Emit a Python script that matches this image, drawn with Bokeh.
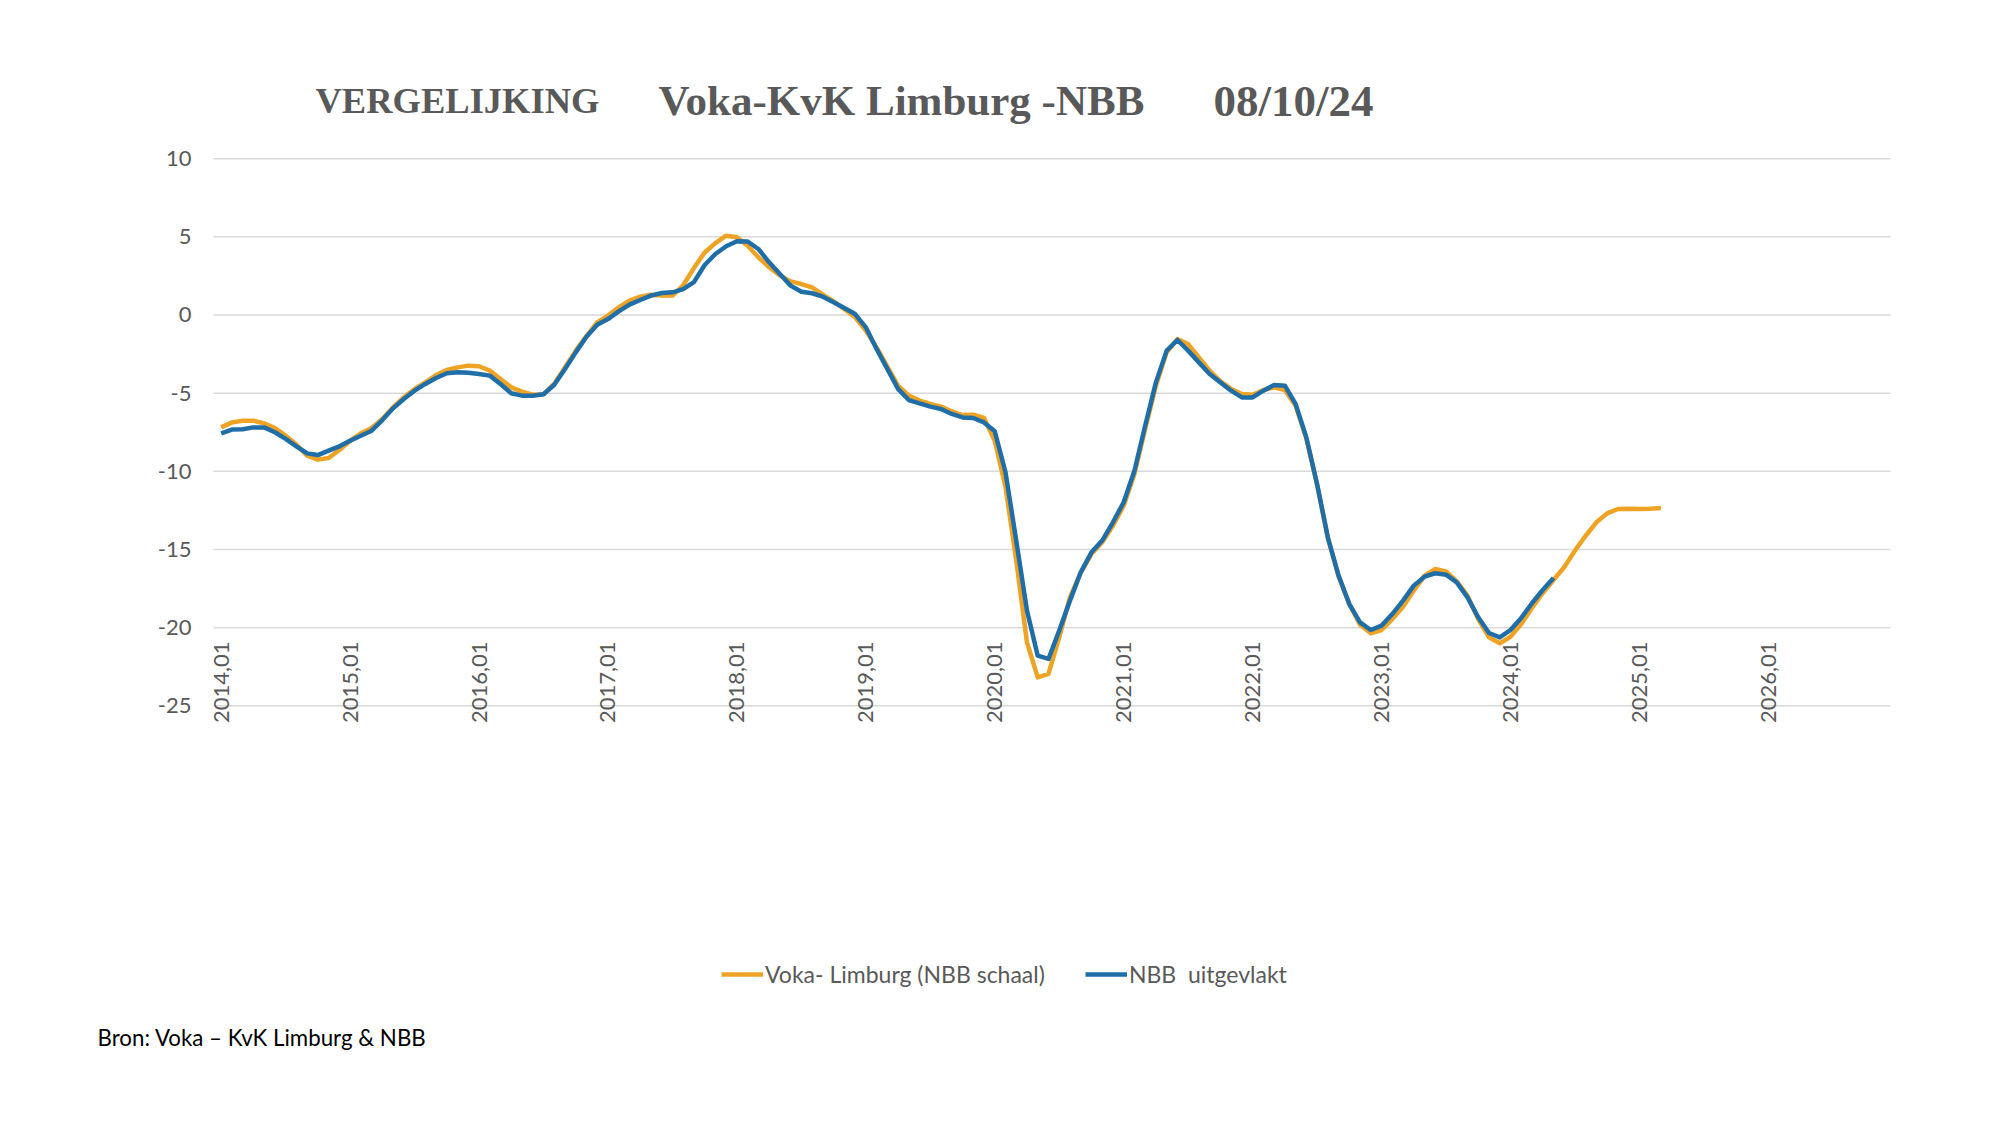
import math
from bokeh.plotting import figure
from bokeh.models import Range1d, Label, Legend, LegendItem, ColumnDataSource
from bokeh.core.properties import value
from bokeh.embed import file_html
from bokeh.resources import INLINE

# Voka - Limburg (NBB schaal), monthly from 2014,01
voka = [
    -7.19, -6.87, -6.76, -6.76, -6.93, -7.23, -7.72, -8.29, -9.00, -9.25, -9.15, -8.64,
    -8.04, -7.57, -7.23, -6.65, -5.90, -5.27, -4.73, -4.31, -3.84, -3.52, -3.35, -3.24,
    -3.28, -3.56, -4.09, -4.63, -4.90, -5.10, -5.07, -4.40, -3.35, -2.28, -1.35, -0.47,
    -0.04, 0.49, 0.92, 1.17, 1.30, 1.24, 1.24, 1.90, 3.00, 4.00, 4.60, 5.07,
    4.97, 4.43, 3.69, 3.05, 2.52, 2.15, 1.98, 1.77, 1.30, 0.87, 0.38, -0.15,
    -1.00, -2.07, -3.30, -4.52, -5.16, -5.48, -5.69, -5.86, -6.16, -6.40, -6.38, -6.59,
    -8.04, -11.00, -15.70, -20.94, -23.18, -22.96, -20.62, -18.06, -16.50, -15.29, -14.54, -13.48,
    -12.20, -10.17, -7.29, -4.52, -2.39, -1.54, -1.86, -2.71, -3.56, -4.24, -4.73, -5.05,
    -5.10, -4.80, -4.63, -4.80, -5.80, -7.90, -10.85, -14.25, -16.70, -18.50, -19.81, -20.36,
    -20.15, -19.45, -18.66, -17.63, -16.67, -16.25, -16.40, -17.04, -17.95, -19.45, -20.62, -21.00,
    -20.58, -19.77, -18.74, -17.80, -16.95, -16.14, -15.07, -14.12, -13.26, -12.69, -12.41, -12.39,
    -12.41, -12.39, -12.35,
]

# NBB uitgevlakt, monthly from 2014,01
nbb = [
    -7.57, -7.33, -7.31, -7.19, -7.19, -7.50, -7.93, -8.40, -8.85, -8.96, -8.68, -8.40,
    -8.04, -7.72, -7.40, -6.72, -5.97, -5.37, -4.84, -4.41, -4.03, -3.73, -3.67, -3.69,
    -3.77, -3.88, -4.41, -5.01, -5.16, -5.16, -5.07, -4.46, -3.45, -2.39, -1.39, -0.62,
    -0.26, 0.23, 0.66, 0.96, 1.24, 1.41, 1.45, 1.66, 2.10, 3.20, 3.90, 4.40,
    4.72, 4.70, 4.22, 3.37, 2.62, 1.88, 1.49, 1.39, 1.17, 0.81, 0.45, 0.06,
    -0.79, -2.17, -3.45, -4.73, -5.44, -5.65, -5.86, -6.01, -6.33, -6.55, -6.59, -6.87,
    -7.44, -10.06, -14.43, -18.91, -21.79, -22.00, -20.19, -18.27, -16.46, -15.18, -14.43, -13.26,
    -11.98, -9.96, -7.08, -4.31, -2.28, -1.60, -2.28, -3.03, -3.77, -4.31, -4.84, -5.27,
    -5.27, -4.84, -4.48, -4.52, -5.69, -7.83, -10.81, -14.22, -16.67, -18.49, -19.66, -20.15,
    -19.87, -19.13, -18.27, -17.31, -16.74, -16.52, -16.61, -17.10, -18.06, -19.34, -20.34, -20.62,
    -20.15, -19.38, -18.44, -17.59, -16.82,
]

tick_labels = ["2014,01", "2015,01", "2016,01", "2017,01", "2018,01", "2019,01", "2020,01",
               "2021,01", "2022,01", "2023,01", "2024,01", "2025,01", "2026,01"]
y_ticks = [-25, -20, -15, -10, -5, 0, 5, 10]
y_tick_labels = ["-25", "-20", "-15", "-10", "-5", "0", "5", "10"]

series_names = ["Voka- Limburg (NBB schaal)", "NBB\u00a0 uitgevlakt"]
title_parts = ["VERGELIJKING", "Voka-KvK Limburg -NBB", "08/10/24"]
source_text = "Bron: Voka \u2013 KvK Limburg & NBB"

ORANGE = "#EFA324"
BLUE = "#1F6EA8"
GREY = "#595959"
FONT = "Lato"

# plot area in months (x) and value units (y)
X_LO, X_HI = -0.72, 155.37

W, H = 1984, 1109
p = figure(width=W, height=H, output_backend="svg", toolbar_location=None,
           x_range=Range1d(-20.54, 164.12), y_range=Range1d(-50.82, 20.116),
           x_axis_location=None, y_axis_location=None, title=None,
           min_border=0)
p.outline_line_color = None
p.background_fill_color = "white"
p.border_fill_color = "white"
p.xgrid.visible = False
p.ygrid.visible = False

# horizontal gridlines across the plot area
p.segment(x0=[X_LO] * len(y_ticks), x1=[X_HI] * len(y_ticks), y0=y_ticks, y1=y_ticks,
          line_color="#D9D9D9", line_width=1.5)

# y tick labels
p.text(x=[-2.76] * len(y_ticks), y=y_ticks, text=y_tick_labels,
       text_align="right", text_baseline="middle",
       text_font=value(FONT), text_font_size="22px", text_color=GREY)

r1 = p.line(list(range(len(voka))), voka, line_color=ORANGE, line_width=4.5, line_join="round")
r2 = p.line(list(range(len(nbb))), nbb, line_color=BLUE, line_width=4.5, line_join="round")

# category labels (rotated), placed as in the original
tick_src = ColumnDataSource(dict(
    x=[12 * i for i in range(len(tick_labels))],
    y=[-20.88] * len(tick_labels),
    text=tick_labels,
))
p.text(x="x", y="y", text="text", source=tick_src, angle=math.pi / 2,
       text_align="right", text_baseline="middle",
       text_font=value(FONT), text_font_size="22px", text_color=GREY)

legend = Legend(items=[LegendItem(label=series_names[0], renderers=[r1]),
                       LegendItem(label=series_names[1], renderers=[r2])],
                orientation="horizontal", location=(721, 121),
                glyph_width=42, glyph_height=20, label_standoff=2, spacing=40,
                padding=0, margin=0, border_line_color=None, background_fill_alpha=0,
                label_text_font=FONT, label_text_font_size="23px", label_text_color=GREY)
p.add_layout(legend)

for txt, xx, fs in zip(title_parts, [315, 658, 1213], ["36.5px", "43px", "45px"]):
    p.add_layout(Label(x=xx, y=H - 100, x_units="screen", y_units="screen", text=txt,
                       text_font="Liberation Serif", text_font_style="bold",
                       text_font_size=fs, text_color=GREY, text_baseline="middle"))

p.add_layout(Label(x=97, y=H - 1037, x_units="screen", y_units="screen", text=source_text,
                   text_font=FONT, text_font_size="22.3px", text_color="black",
                   text_baseline="middle"))

open("out.html", "w").write(file_html(p, INLINE))
